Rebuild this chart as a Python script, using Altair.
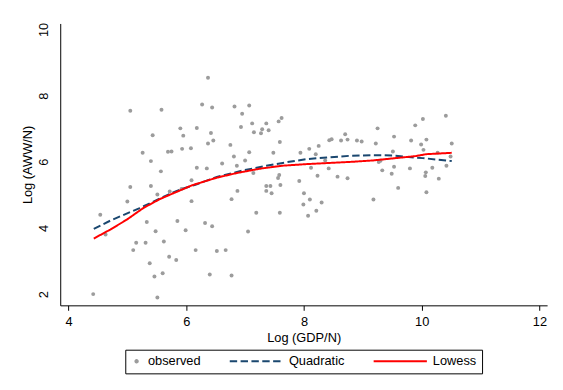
import altair as alt
import pandas as pd

# ---- data ----
obs_x = [4.42, 4.54, 4.63, 5.05, 5.00, 5.05, 5.10, 5.15, 5.26, 5.31, 5.33, 5.38, 5.40, 5.40, 5.43,
         5.46, 5.48, 5.51, 5.51, 5.57, 5.58, 5.60, 5.62, 5.69, 5.72, 5.75, 5.71, 5.83, 5.85, 5.90,
         5.92, 5.93, 5.95, 5.99, 6.08, 6.09, 6.09, 6.16, 6.18, 6.18, 6.27, 6.32, 6.35, 6.37, 6.37,
         6.42, 6.44, 6.44, 6.46, 6.40, 6.52, 6.61, 6.67, 6.75, 6.77, 6.77, 6.81, 6.82, 6.86, 6.87,
         6.93, 6.95, 7.00, 7.05, 7.07, 7.07, 7.12, 7.14, 7.15, 7.19, 7.27, 7.29, 7.36, 7.36, 7.36,
         7.40, 7.43, 7.45, 7.48, 7.57, 7.59, 7.59, 7.62, 7.60, 7.56, 7.58, 7.92, 7.94, 7.99, 8.00,
         8.07, 8.09, 8.10, 8.12, 8.20, 8.21, 8.23, 8.25, 8.30, 8.36, 8.42, 8.43, 8.47, 8.57, 8.63,
         8.70, 8.74, 8.74, 8.90, 8.98, 9.18, 9.22, 9.25, 9.27, 9.30, 9.33, 9.49, 9.51, 9.53, 9.53,
         9.60, 9.80, 9.82, 9.89, 9.99, 10.02, 10.03, 10.08, 10.06, 10.07, 10.08, 10.18, 10.29, 10.41,
         10.42, 10.49, 10.51, 10.27]
obs_y = [2.00, 4.40, 3.80, 7.54, 4.80, 5.24, 3.33, 3.55, 6.27, 3.55, 4.18, 2.93, 5.27, 6.02, 6.80,
         2.53, 3.90, 5.01, 1.90, 5.71, 7.57, 2.63, 3.59, 6.30, 5.10, 6.31, 3.13, 3.03, 4.21, 7.01,
         5.18, 6.39, 6.79, 3.93, 6.41, 5.44, 4.81, 3.33, 7.02, 5.82, 7.73, 4.15, 5.80, 8.54, 6.55,
         6.87, 7.64, 4.05, 6.64, 2.59, 3.30, 5.95, 3.33, 6.51, 4.87, 2.56, 6.16, 7.67, 5.88, 5.12,
         7.05, 7.45, 6.04, 3.89, 7.70, 6.29, 7.16, 5.66, 6.89, 4.46, 6.86, 6.98, 7.16, 5.12, 5.27,
         6.95, 5.27, 5.05, 6.27, 7.22, 6.60, 4.46, 7.32, 5.30, 5.51, 5.60, 5.42, 6.27, 4.71, 5.05,
         4.37, 6.39, 4.86, 5.82, 6.23, 4.52, 5.58, 6.48, 4.77, 6.04, 5.80, 6.65, 6.68, 5.55, 6.64,
         6.83, 6.67, 5.50, 6.64, 6.61, 4.86, 6.55, 7.01, 5.99, 6.03, 5.74, 5.64, 6.31, 6.76, 5.85,
         5.21, 5.80, 6.64, 7.10, 6.52, 7.29, 6.36, 6.67, 5.57, 5.68, 5.08, 5.82, 5.49, 7.39,
         5.88, 6.16, 6.55, 6.27]

quad_x = [4.43, 4.71, 4.88, 5.05, 5.21, 5.38, 5.55, 5.72, 5.91, 6.18, 6.52, 6.97, 7.36, 7.75,
          8.05, 8.39, 8.78, 9.17, 9.50, 9.72, 10.02, 10.51]
quad_y = [3.97, 4.22, 4.35, 4.48, 4.60, 4.74, 4.89, 5.03, 5.17, 5.32, 5.54, 5.74, 5.88, 6.00,
          6.08, 6.13, 6.18, 6.20, 6.19, 6.15, 6.11, 6.02]

low_x = [4.43, 4.71, 4.99, 5.27, 5.55, 5.77, 5.97, 6.10, 6.52, 6.86, 7.25, 7.63, 8.05, 8.39,
         8.83, 9.17, 9.50, 9.89, 10.08, 10.51]
low_y = [3.68, 3.95, 4.25, 4.60, 4.87, 5.04, 5.19, 5.29, 5.52, 5.66, 5.79, 5.88, 5.93, 5.96,
         6.00, 6.04, 6.10, 6.17, 6.23, 6.27]

series_names = ["observed", "Quadratic", "Lowess"]
series_colors = ["#9c9c9c", "#1a476f", "#ff0000"]
x_ticks = [4, 6, 8, 10, 12]
y_ticks = [2, 4, 6, 8, 10]

obs = pd.DataFrame({"x": obs_x, "y": obs_y, "series": "observed", "order": range(len(obs_x))})
quad = pd.DataFrame({"x": quad_x, "y": quad_y, "series": "Quadratic", "order": range(len(quad_x))})
low = pd.DataFrame({"x": low_x, "y": low_y, "series": "Lowess", "order": range(len(low_x))})
fits = pd.concat([quad, low], ignore_index=True)
allrows = pd.concat([obs, fits], ignore_index=True)

FONT = "Liberation Sans"

legend = alt.Legend(
    title=None, orient="none", legendX=66, legendY=331, direction="horizontal",
    strokeColor="#000000", padding=5, clipHeight=13,
    labelFont=FONT, labelFontSize=13, labelColor="#000000", labelOffset=5,
    columnPadding=28, symbolStrokeWidth=2,
)

xenc = alt.X("x:Q", scale=alt.Scale(domain=[3.86, 12.13], nice=False, zero=False),
             axis=alt.Axis(values=x_ticks, title="Log (GDP/N)", grid=False, tickSize=5,
                           labelPadding=5, titlePadding=4))
yenc = alt.Y("y:Q", scale=alt.Scale(domain=[1.66, 10.18], nice=False, zero=False),
             axis=alt.Axis(values=y_ticks, title="Log (AWW/N)", grid=False, ticks=False,
                           tickSize=0, labelAngle=270, labelPadding=10, titlePadding=3))
color = alt.Color("series:N", scale=alt.Scale(domain=series_names, range=series_colors), legend=legend)

points = alt.Chart(obs).mark_point(filled=True, shape="circle", size=16, opacity=1).encode(
    x=xenc, y=yenc, color=color)

lines = alt.Chart(fits).mark_line(strokeWidth=2, opacity=1).encode(
    x=xenc, y=yenc, color=color,
    strokeDash=alt.StrokeDash("series:N",
                              scale=alt.Scale(domain=series_names, range=[[1, 0], [7.5, 3.5], [1, 0]]),
                              legend=legend),
    detail="series:N", order="order:Q")

legend_layer = alt.Chart(allrows).transform_filter("false").mark_point(filled=True, opacity=1).encode(
    x=xenc, y=yenc, color=color,
    shape=alt.Shape("series:N", scale=alt.Scale(domain=series_names, range=["circle", "stroke", "stroke"]),
                    legend=legend),
    size=alt.Size("series:N", scale=alt.Scale(type="ordinal", domain=series_names, range=[6, 2916, 2916]),
                  legend=legend))

chart = alt.layer(points, lines, legend_layer).properties(
    width=494, height=286,
    autosize=alt.AutoSizeParams(type="none"),
    padding={"left": 53, "top": 13, "right": 8, "bottom": 70},
    background="white",
).configure_view(stroke="transparent").configure_axis(
    domainColor="#000000", domainWidth=1, tickColor="#000000", tickWidth=1,
    labelFont=FONT, labelFontSize=13, labelColor="#000000",
    titleFont=FONT, titleFontSize=13, titleColor="#000000", titleFontWeight="normal",
)

chart.save("out.html", embed_options={"renderer": "svg", "actions": False})
